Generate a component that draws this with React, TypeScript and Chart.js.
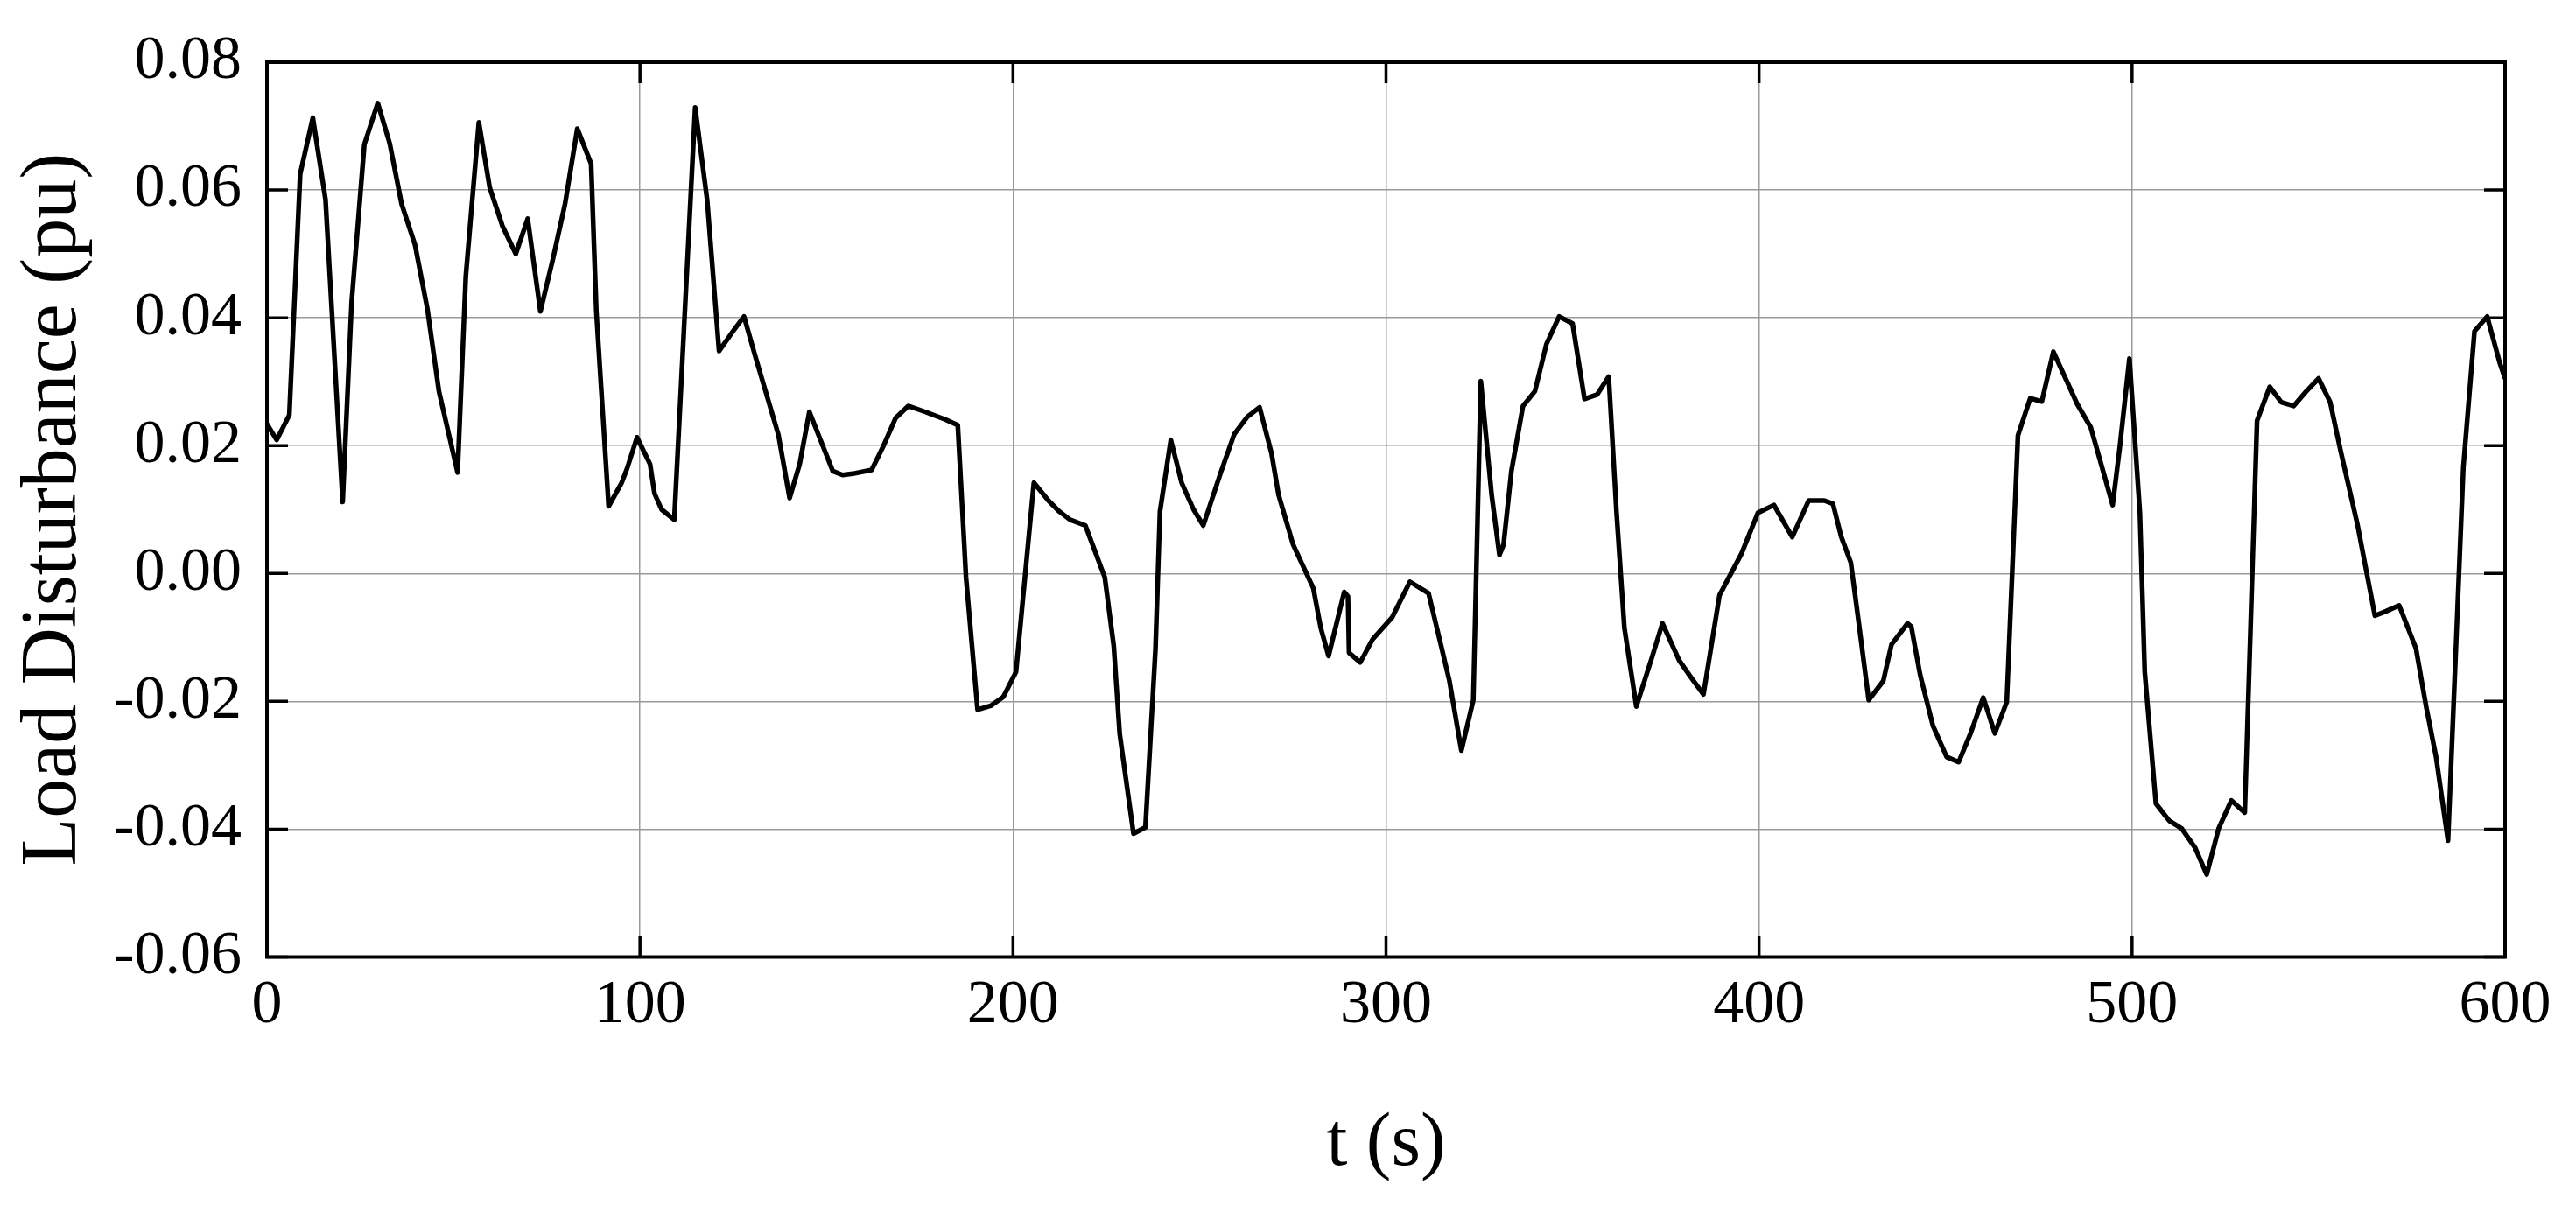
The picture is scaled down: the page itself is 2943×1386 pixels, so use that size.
import React, { useEffect, useRef } from "react";
import { Chart, registerables } from "chart.js";

Chart.register(...registerables);

const timeSeconds = [
  0, 2.6, 6.0, 8.9, 12.3, 15.7, 20.3, 22.7, 26.1, 29.7, 32.9, 36.1, 39.7, 43.0, 46.1, 51.1, 53.3, 56.8, 59.7, 63.1,
  66.7, 69.9, 73.3, 76.7, 79.9, 83.2, 86.9, 88.3, 91.6, 95.1, 96.6, 99.2, 102.7, 103.9, 105.8, 109.2, 114.8, 118.0,
  121.2, 125.3, 127.9, 130.9, 137.1, 140.1, 142.8, 145.4, 151.7, 154.3, 157.0, 162.1, 165.3, 168.5, 171.9, 176.4,
  181.8, 185.2, 187.4, 190.5, 194.0, 197.4, 200.8, 205.6, 209.5, 212.4, 215.3, 219.4, 224.6, 227.0, 228.6, 232.3,
  235.5, 238.2, 239.4, 242.3, 245.2, 248.4, 251.0, 255.7, 259.3, 262.8, 266.1, 269.3, 271.2, 275.1, 280.5, 282.5,
  284.6, 288.8, 289.8, 290.1, 293.1, 296.4, 301.6, 306.4, 311.4, 314.2, 317.0, 320.2, 323.4, 325.4, 328.3, 330.4,
  331.5, 333.6, 336.7, 339.9, 343.0, 346.4, 350.0, 353.2, 356.6, 359.7, 361.8, 363.9, 367.1, 371.3, 374.1, 378.6,
  381.7, 385.1, 389.4, 395.3, 399.7, 404.0, 408.9, 413.3, 417.5, 419.8, 422.0, 424.6, 426.9, 429.4, 433.3, 435.5,
  439.8, 440.8, 443.2, 446.6, 450.3, 453.5, 456.7, 460.1, 463.2, 466.4, 469.4, 472.7, 475.8, 478.9, 485.3, 488.9,
  491.8, 494.8, 496.7, 499.3, 502.1, 503.4, 506.4, 510.0, 513.3, 516.9, 520.0, 523.2, 526.6, 530.2, 533.5, 536.9,
  540.0, 543.3, 546.7, 550.0, 553.1, 555.9, 560.4, 565.1, 568.1, 571.6, 576.1, 578.9, 581.5, 584.7, 588.8, 591.8,
  595.2, 598.5, 600,
];

const loadDisturbance = [
  0.0234, 0.0209, 0.0248, 0.0625, 0.0713, 0.0585, 0.0112, 0.0424, 0.0671, 0.0736, 0.0673, 0.0578, 0.0514, 0.0414,
  0.0285, 0.0158, 0.0465, 0.0706, 0.0604, 0.0544, 0.05, 0.0555, 0.041, 0.0493, 0.0578, 0.0696, 0.0641, 0.041,
  0.0105, 0.0142, 0.0165, 0.0213, 0.0171, 0.0125, 0.01, 0.0084, 0.0729, 0.0585, 0.0348, 0.0382, 0.0402, 0.034,
  0.0217, 0.0118, 0.0171, 0.0253, 0.016, 0.0154, 0.0156, 0.0162, 0.02, 0.0243, 0.0262, 0.0253, 0.0241, 0.0232,
  -0.0006, -0.0213, -0.0207, -0.0193, -0.0154, 0.0142, 0.0114, 0.0097, 0.0084, 0.0075, -0.0006, -0.0113, -0.0251,
  -0.0407, -0.0397, -0.0117, 0.0097, 0.0209, 0.0142, 0.01, 0.0075, 0.0158, 0.0218, 0.0245, 0.026, 0.0188, 0.0123,
  0.0045, -0.0023, -0.0085, -0.0129, -0.0029, -0.0036, -0.0124, -0.0139, -0.0103, -0.0069, -0.0013, -0.0031,
  -0.0099, -0.0168, -0.0277, -0.0198, 0.0301, 0.0123, 0.0029, 0.0045, 0.016, 0.0262, 0.0285, 0.0359, 0.0402,
  0.0391, 0.0273, 0.028, 0.0308, 0.0095, -0.0085, -0.0208, -0.0131, -0.0078, -0.0136, -0.0162, -0.0189, -0.0034,
  0.0031, 0.0095, 0.0107, 0.0057, 0.0114, 0.0114, 0.0109, 0.0058, 0.0017, -0.0085, -0.0198, -0.0168, -0.0111,
  -0.0078, -0.0083, -0.0159, -0.0238, -0.0287, -0.0295, -0.025, -0.0194, -0.025, -0.0201, 0.0216, 0.0274, 0.0269,
  0.0347, 0.0265, 0.0229, 0.0169, 0.0107, 0.0197, 0.0336, 0.0095, -0.0154, -0.036, -0.0387, -0.0399, -0.0429,
  -0.0471, -0.0399, -0.0355, -0.0374, 0.0239, 0.0292, 0.0268, 0.0262, 0.0285, 0.0305, 0.0268, 0.0192, 0.0077,
  -0.0066, -0.0059, -0.005, -0.0117, -0.021, -0.0287, -0.0418, 0.0165, 0.0379, 0.0402, 0.0331, 0.0305,
];

const xTickValues = [0, 100, 200, 300, 400, 500, 600];
const yTickValues = [-0.06, -0.04, -0.02, 0.0, 0.02, 0.04, 0.06, 0.08];

const xTitle = "t (s)";
const yTitle = "Load Disturbance (pu)";

const FONT = "'Liberation Serif', 'Times New Roman', serif";

const framePlugin = {
  id: "frameTicks",
  afterDatasetsDraw(chart: any) {
    const { ctx, chartArea, scales } = chart;
    const { left, right, top, bottom } = chartArea;
    const len = 24;
    ctx.save();
    ctx.strokeStyle = "#000";
    ctx.lineWidth = 3.5;
    ctx.lineCap = "butt";
    ctx.beginPath();
    xTickValues.forEach((v) => {
      const px = scales.x.getPixelForValue(v);
      ctx.moveTo(px, top);
      ctx.lineTo(px, top + len);
      ctx.moveTo(px, bottom);
      ctx.lineTo(px, bottom - len);
    });
    yTickValues.forEach((v) => {
      const py = scales.y.getPixelForValue(v);
      ctx.moveTo(left, py);
      ctx.lineTo(left + len, py);
      ctx.moveTo(right, py);
      ctx.lineTo(right - len, py);
    });
    ctx.stroke();
    ctx.lineWidth = 4;
    ctx.strokeRect(left, top, right - left, bottom - top);
    ctx.restore();
  },
};

export default function App() {
  const canvasRef = useRef<HTMLCanvasElement | null>(null);

  useEffect(() => {
    const canvas = canvasRef.current;
    if (!canvas) return;
    const points = timeSeconds.map((t, i) => ({ x: t, y: loadDisturbance[i] }));
    const chart = new Chart(canvas, {
      type: "line",
      data: {
        datasets: [
          {
            label: "Load Disturbance",
            data: points,
            borderColor: "#000",
            borderWidth: 5.5,
            borderJoinStyle: "round",
            pointRadius: 0,
            tension: 0,
            fill: false,
          },
        ],
      },
      options: {
        responsive: false,
        animation: false,
        events: [],
        layout: { padding: { top: 69.5, right: 81, left: 0, bottom: 0 } },
        plugins: {
          legend: { display: false },
          tooltip: { enabled: false },
        },
        scales: {
          x: {
            type: "linear",
            min: 0,
            max: 600,
            afterBuildTicks: (scale: any) => {
              scale.ticks = xTickValues.map((v) => ({ value: v }));
            },
            afterFit: (scale: any) => {
              scale.height = 292.5;
            },
            grid: { color: "#9a9a9a", lineWidth: 1.5, drawTicks: false },
            border: { display: false },
            ticks: {
              padding: 14,
              color: "#000",
              font: { family: FONT, size: 70 },
              maxRotation: 0,
              callback: (v: any) => String(v),
            },
            title: {
              display: true,
              text: xTitle,
              color: "#000",
              font: { family: FONT, size: 86 },
              padding: { top: 0, bottom: 26 },
            },
          },
          y: {
            type: "linear",
            min: -0.06,
            max: 0.08,
            afterBuildTicks: (scale: any) => {
              scale.ticks = yTickValues.map((v) => ({ value: v }));
            },
            afterFit: (scale: any) => {
              scale.width = 305;
            },
            grid: { color: "#9a9a9a", lineWidth: 1.5, drawTicks: false },
            border: { display: false },
            ticks: {
              padding: 29,
              color: "#000",
              font: { family: FONT, size: 70 },
              callback: (v: any) => {
                const n = Number(v);
                return Math.abs(n) < 1e-9 ? "0.00" : n.toFixed(2);
              },
            },
            title: {
              display: true,
              text: yTitle,
              color: "#000",
              font: { family: FONT, size: 90 },
              padding: { top: 8, bottom: 0 },
            },
          },
        },
      },
      plugins: [framePlugin],
    });
    return () => chart.destroy();
  }, []);

  return (
    <div style={{ position: "absolute", left: 0, top: 0, width: 2943, height: 1386, background: "#fff" }}>
      <canvas ref={canvasRef} width={2943} height={1386} style={{ display: "block" }} />
    </div>
  );
}
